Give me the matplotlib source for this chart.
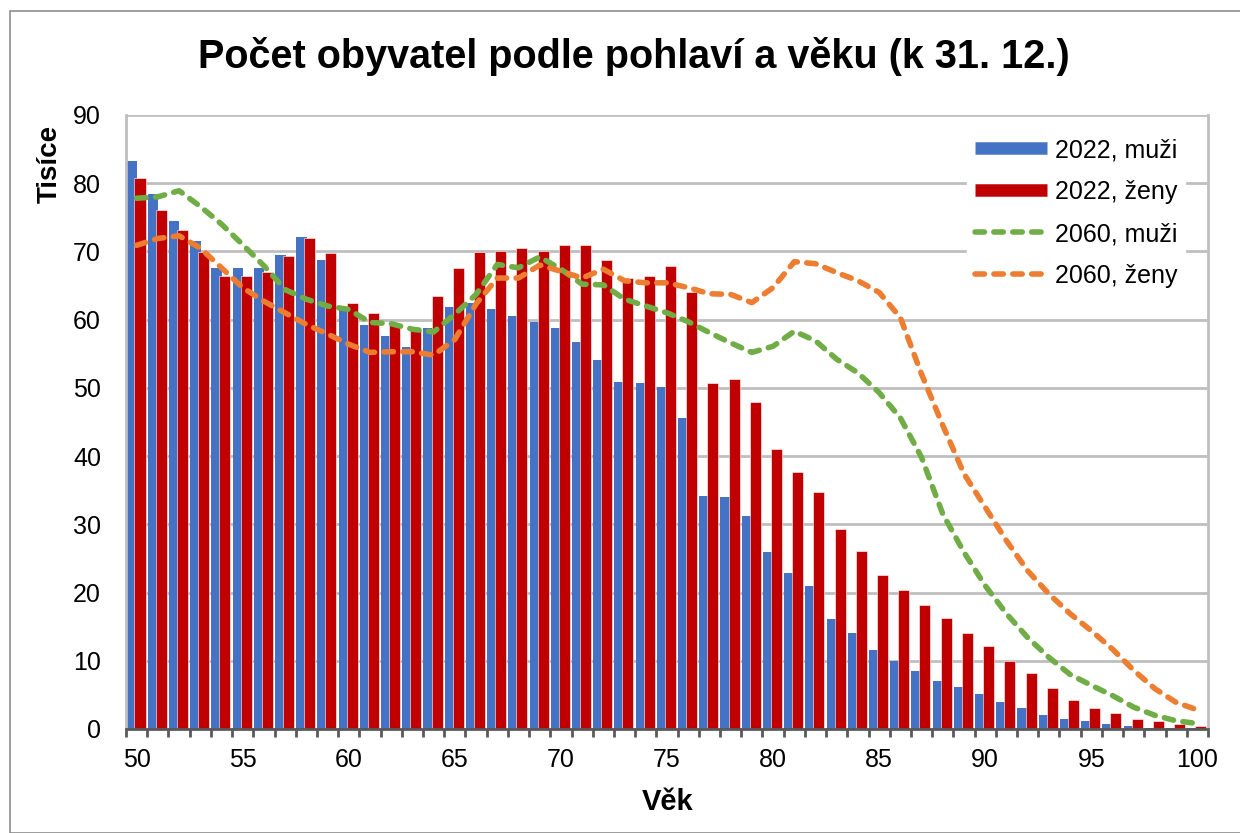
import numpy as np
import matplotlib.pyplot as plt
from matplotlib.lines import Line2D
from matplotlib.patches import Rectangle

plt.rcParams['font.family'] = ['Liberation Sans', 'DejaVu Sans']

ages = list(range(50, 101))

men_2022 = [83.3, 78.4, 74.5, 71.5, 67.5, 67.5, 67.5, 69.5, 72.1, 68.7,
            61.4, 59.2, 57.6, 56.0, 58.8, 61.8, 62.5, 61.6, 60.6, 59.6,
            58.8, 56.7, 54.1, 50.9, 50.7, 50.1, 45.6, 34.1, 34.0, 31.2,
            25.9, 22.8, 20.9, 16.1, 14.0, 11.6, 10.0, 8.5, 7.1, 6.1,
            5.1, 3.9, 3.1, 2.1, 1.5, 1.1, 0.7, 0.4, 0.2, 0.1, 0.1]
women_2022 = [80.8, 76.1, 73.1, 69.9, 66.4, 66.4, 67.0, 69.3, 71.9, 69.7,
              62.4, 61.0, 59.2, 58.5, 63.4, 67.5, 69.9, 70.1, 70.5, 70.1,
              70.9, 70.9, 68.7, 66.1, 66.4, 67.8, 64.0, 50.7, 51.3, 47.9,
              41.1, 37.6, 34.8, 29.3, 26.1, 22.6, 20.4, 18.2, 16.2, 14.0,
              12.1, 10.0, 8.2, 6.0, 4.3, 3.1, 2.3, 1.5, 1.1, 0.7, 0.5]
men_2060 = [77.8, 78.0, 78.9, 76.6, 74.0, 71.0, 67.9, 64.4, 63.0, 62.0,
            61.5, 59.6, 59.4, 58.6, 58.2, 60.8, 63.7, 68.1, 67.6, 69.2,
            67.4, 65.2, 65.1, 63.0, 62.0, 61.0, 59.7, 58.1, 56.6, 55.2,
            56.1, 58.3, 56.9, 54.2, 52.2, 49.3, 45.6, 39.8, 31.5, 25.9,
            21.0, 16.9, 13.4, 10.5, 8.0, 6.4, 4.9, 3.2, 2.0, 1.2, 0.8]
women_2060 = [70.9, 71.9, 72.3, 70.5, 67.6, 64.7, 62.7, 61.0, 59.3, 57.9,
              56.4, 55.2, 55.3, 55.3, 54.8, 57.1, 62.3, 66.1, 66.1, 68.0,
              67.1, 66.1, 67.4, 65.7, 65.4, 65.4, 64.7, 63.8, 63.7, 62.5,
              64.7, 68.5, 68.2, 66.9, 65.7, 64.0, 60.3, 52.0, 44.5, 37.4,
              32.5, 27.6, 23.2, 19.8, 16.9, 14.4, 11.7, 8.6, 5.9, 3.9, 2.8]

blue = '#4472C4'
red = '#C00000'
green = '#70AD47'
orange = '#ED7D31'
grid_c = '#BFBFBF'
dash = (1.7, 1.7)
lw_line = 4.0

fig = plt.figure(figsize=(12.4, 8.33), dpi=100)
ax = fig.add_axes([126/1240, 1 - 729/833, (1208 - 126)/1240, (729 - 115)/833])

x = np.arange(len(ages))
ax.bar(x - 0.23, men_2022, width=0.5, color=blue, zorder=2)
ax.bar(x + 0.16, women_2022, width=0.52, color=red, edgecolor='white',
       linewidth=0.4, zorder=3)
ax.plot(x, men_2060, color=green, lw=lw_line, dashes=dash,
        dash_capstyle='round', zorder=4)
ax.plot(x, women_2060, color=orange, lw=lw_line, dashes=dash,
        dash_capstyle='round', zorder=4)

ax.set_xlim(-0.5, len(ages) - 0.5)
ax.set_ylim(0, 90)
ax.set_yticks(range(0, 91, 10))
ax.yaxis.grid(True, color=grid_c, lw=2)
ax.set_axisbelow(True)

major = [i for i, a in enumerate(ages) if a % 5 == 0]
ax.set_xticks(major)
ax.set_xticklabels([str(ages[i]) for i in major])
ax.set_xticks(np.arange(-0.5, len(ages), 1), minor=True)
ax.tick_params(axis='x', which='major', length=0, pad=14, labelsize=18)
ax.tick_params(axis='x', which='minor', length=6, width=2, color='#595959',
               direction='out')
ax.tick_params(axis='y', length=0, pad=18, labelsize=18)

for s in ['left', 'right']:
    ax.spines[s].set_color(grid_c)
    ax.spines[s].set_linewidth(2)
ax.spines['top'].set_visible(False)
ax.spines['bottom'].set_color('#595959')
ax.spines['bottom'].set_linewidth(2)
ax.spines['bottom'].set_zorder(5)

handles = [
    Line2D([0], [0], color=blue, lw=9, solid_capstyle='butt'),
    Line2D([0], [0], color=red, lw=9, solid_capstyle='butt'),
    Line2D([0], [0], color=green, lw=lw_line, dashes=dash, dash_capstyle='round'),
    Line2D([0], [0], color=orange, lw=lw_line, dashes=dash, dash_capstyle='round'),
]
labels = ['2022, muži', '2022, ženy', '2060, muži', '2060, ženy']
leg = ax.legend(handles, labels, loc='upper right', bbox_to_anchor=(0.99, 0.995),
                frameon=True, fontsize=18, handlelength=2.9, handletextpad=0.3,
                labelspacing=0.72, borderpad=0.3)
leg.get_frame().set_facecolor('white')
leg.get_frame().set_edgecolor('white')
leg.get_frame().set_alpha(1)
leg.set_zorder(6)

fig.text(634/1240, 1 - 57/833, 'Počet obyvatel podle pohlaví a věku (k 31. 12.)',
         ha='center', va='center', fontsize=28.5, fontweight='bold')
fig.text(668/1240, 1 - 802/833, 'Věk', ha='center', va='center',
         fontsize=21, fontweight='bold')
fig.text(50/1240, 1 - 164/833, 'Tisíce', ha='center', va='center',
         rotation=90, fontsize=20, fontweight='bold')

fig.patches.append(Rectangle((9.5/1240, 0), 1.0, 1 - 10.5/833,
                             transform=fig.transFigure, fill=False,
                             edgecolor='#8C8C8C', lw=1.2))

fig.savefig('out.png', dpi=100)
